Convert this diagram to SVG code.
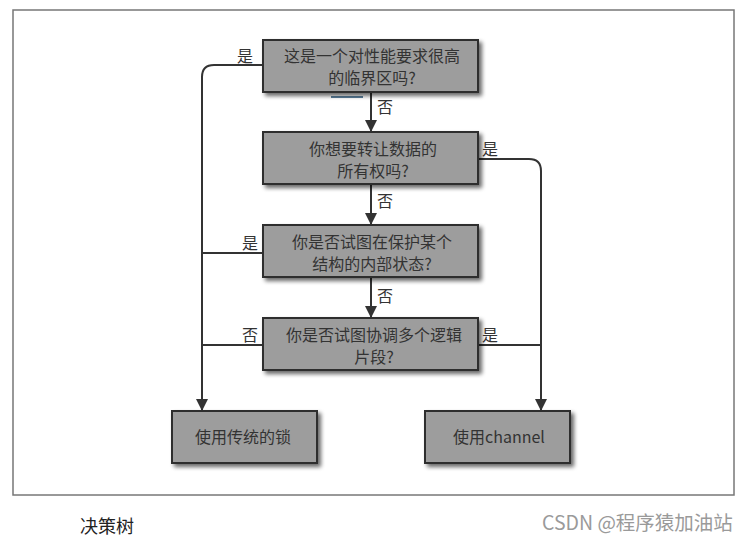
<svg xmlns="http://www.w3.org/2000/svg" width="747" height="542" viewBox="0 0 747 542">
<style>
.box{fill:#9d9d9d;stroke:#2e2e2e;stroke-width:2;filter:url(#sh)}
.t{font-family:"Noto Sans CJK SC","Noto Sans",sans-serif;font-size:16px;fill:#333;text-anchor:middle}
.lb{font-family:"Noto Sans CJK SC","Noto Sans",sans-serif;font-size:16px;fill:#333}
.ln{fill:none;stroke:#333;stroke-width:2}
</style>
<defs>
<filter id="sh" x="-10%" y="-20%" width="125%" height="150%">
<feGaussianBlur in="SourceAlpha" stdDeviation="2"/>
<feOffset dx="3" dy="3" result="b"/>
<feComponentTransfer><feFuncA type="linear" slope="0.6"/></feComponentTransfer>
<feMerge><feMergeNode/><feMergeNode in="SourceGraphic"/></feMerge>
</filter>
<marker id="ar" markerWidth="12" markerHeight="12" refX="11" refY="6" orient="auto" markerUnits="userSpaceOnUse">
<path d="M0,0 L12,6 L0,12 Z" fill="#333"/>
</marker>
</defs>
<rect width="747" height="542" fill="#fff"/>
<rect x="13" y="10" width="721" height="485" fill="none" stroke="#777" stroke-width="1.5"/>
<line x1="331" y1="97" x2="363" y2="97" stroke="#5a7f9c" stroke-width="2"/>
<g id="connectors">
<path class="ln" d="M263,65 H214 Q202,65 202,77 V410" marker-end="url(#ar)"/>
<path class="ln" d="M263,253 H202"/>
<path class="ln" d="M263,345 H202"/>
<path class="ln" d="M478,159 H529 Q541,159 541,171 V410" marker-end="url(#ar)"/>
<path class="ln" d="M478,345 H541"/>
<path class="ln" d="M371,92 V131" marker-end="url(#ar)"/>
<path class="ln" d="M371,184 V224" marker-end="url(#ar)"/>
<path class="ln" d="M371,277 V317" marker-end="url(#ar)"/>
<text class="lb" x="237" y="62">是</text>
<text class="lb" x="377" y="113">否</text>
<text class="lb" x="482" y="155">是</text>
<text class="lb" x="377" y="207">否</text>
<text class="lb" x="242" y="249">是</text>
<text class="lb" x="377" y="302">否</text>
<text class="lb" x="242" y="341">否</text>
<text class="lb" x="482" y="341">是</text>
</g>
<g id="q1">
<rect class="box" x="263" y="40" width="215" height="52"/>
<text class="t" x="372" y="62">这是一个对性能要求很高</text>
<text class="t" x="372" y="84">的临界区吗?</text>
</g>
<g id="q2">
<rect class="box" x="263" y="132" width="215" height="52"/>
<text class="t" x="373" y="155">你想要转让数据的</text>
<text class="t" x="373" y="177">所有权吗?</text>
</g>
<g id="q3">
<rect class="box" x="263" y="225" width="215" height="52"/>
<text class="t" x="372" y="248">你是否试图在保护某个</text>
<text class="t" x="372" y="270">结构的内部状态?</text>
</g>
<g id="q4">
<rect class="box" x="263" y="318" width="215" height="52"/>
<text class="t" x="374" y="341">你是否试图协调多个逻辑</text>
<text class="t" x="374" y="363">片段?</text>
</g>
<g id="lock">
<rect class="box" x="172" y="411" width="145" height="52"/>
<text class="t" x="243" y="443">使用传统的锁</text>
</g>
<g id="channel">
<rect class="box" x="425" y="411" width="145" height="52"/>
<text class="t" x="499" y="443">使用channel</text>
</g>
<text x="80" y="533" font-family="Noto Sans CJK SC,Noto Sans,sans-serif" font-size="18" fill="#222">决策树</text>
<text x="542" y="530" font-family="Noto Sans CJK SC,Noto Sans,sans-serif" font-size="19.5" fill="#9a9a9a">CSDN @程序猿加油站</text>
</svg>
